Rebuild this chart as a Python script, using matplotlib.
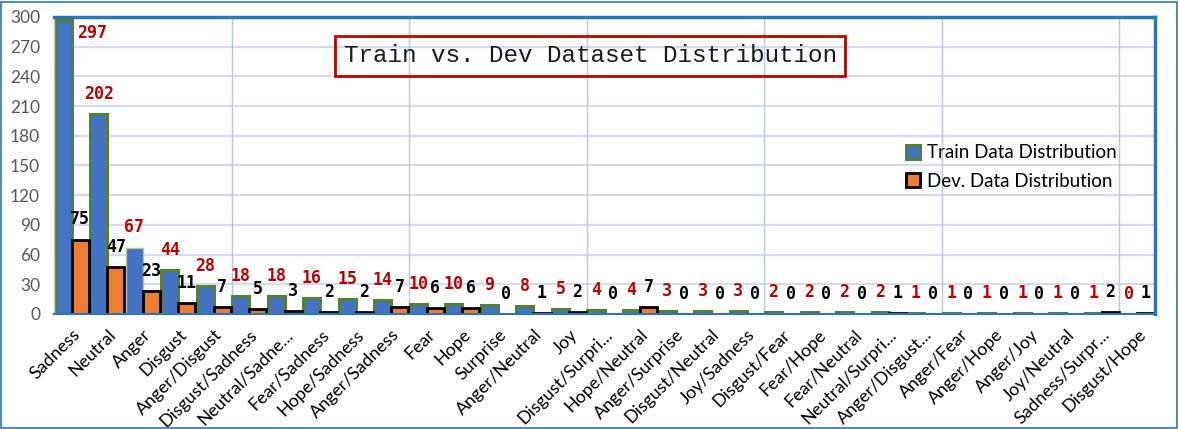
import matplotlib
matplotlib.use("Agg")
import matplotlib.pyplot as plt
import matplotlib.patches as mpatches
import numpy as np

categories = ["Sadness", "Neutral", "Anger", "Disgust", "Anger/Disgust", "Disgust/Sadness",
              "Neutral/Sadne...", "Fear/Sadness", "Hope/Sadness", "Anger/Sadness", "Fear", "Hope",
              "Surprise", "Anger/Neutral", "Joy", "Disgust/Surpri...", "Hope/Neutral",
              "Anger/Surprise", "Disgust/Neutral", "Joy/Sadness", "Disgust/Fear", "Fear/Hope",
              "Fear/Neutral", "Neutral/Surpri...", "Anger/Disgust...", "Anger/Fear", "Anger/Hope",
              "Anger/Joy", "Joy/Neutral", "Sadness/Surpr...", "Disgust/Hope"]
train = [297, 202, 67, 44, 28, 18, 18, 16, 15, 14, 10, 10, 9, 8, 5, 4, 4, 3, 3, 3,
         2, 2, 2, 2, 1, 1, 1, 1, 1, 1, 0]
dev = [75, 47, 23, 11, 7, 5, 3, 2, 2, 7, 6, 6, 0, 1, 2, 0, 7, 0, 0, 0,
       0, 0, 0, 1, 0, 0, 0, 0, 0, 2, 1]
yticks = list(range(0, 301, 30))

W, H = 1179, 429
fig = plt.figure(figsize=(W / 100, H / 100), dpi=100)
ax = fig.add_axes([54 / W, 1 - 314 / H, (1155 - 54) / W, (314 - 17) / H])

x = np.arange(len(categories))
bw = 0.48
train_edges = ["#548235"] * len(train)
train_lw = [2.2] * len(train)
train_edges[2] = "#A9C99A"
train_lw[2] = 1.0
ax.bar(x - bw / 2, train, width=bw, color="#4472C4", edgecolor=train_edges,
       linewidth=train_lw, zorder=3)
ax.bar(x + bw / 2, dev, width=bw, color="#ED7D31", edgecolor="black",
       linewidth=2.0, zorder=3)

ax.set_xlim(-0.5, len(categories) - 0.5)
ax.set_ylim(0, 300)
ax.set_yticks(yticks)
ax.set_yticklabels([str(v) for v in yticks], fontsize=12.5, color="#595959", family="Lato")
ax.tick_params(axis="y", length=0, pad=10)
ax.set_xticks(x)
ax.set_xticklabels(categories, rotation=45, ha="right", rotation_mode="anchor",
                   fontsize=12.8, family="Lato", color="black")
ax.tick_params(axis="x", length=0, pad=9)

for yv in yticks[1:]:
    ax.axhline(yv, color="#D6DCEE", linewidth=1.6, zorder=1)
for xv in np.arange(4.5, len(categories), 5):
    ax.axvline(xv, color="#B4C7E7", linewidth=1.0, zorder=1)

for s in ["top", "right"]:
    ax.spines[s].set_color("#2E75B6")
    ax.spines[s].set_linewidth(2.5)
ax.spines["bottom"].set_color("#2E75B6")
ax.spines["bottom"].set_linewidth(1.5)
ax.spines["left"].set_color("#C8C8C8")
ax.spines["left"].set_linewidth(1.0)
for s in ax.spines.values():
    s.set_zorder(4)

lab_font = dict(family="DejaVu Sans Mono", fontsize=12, fontweight="bold")
for i, (t, d) in enumerate(zip(train, dev)):
    if t >= 290:
        ax.annotate(str(t), (x[i] - bw / 2, t), xytext=(21, -13), textcoords="offset points",
                    ha="center", va="baseline", color="#C00000", zorder=5, **lab_font)
    else:
        ax.annotate(str(t), (x[i] - bw / 2, t), xytext=(0, 11), textcoords="offset points",
                    ha="center", va="baseline", color="#C00000", zorder=5, **lab_font)
    ax.annotate(str(d), (x[i] + bw / 2, d), xytext=(0, 11), textcoords="offset points",
                ha="center", va="baseline", color="black", zorder=5, **lab_font)

# title box
fig.text(590 / W, 1 - 56 / H, "Train vs. Dev Dataset Distribution", family="Liberation Mono",
         fontsize=17.5, ha="center", va="center", color="#1A1A1A",
         bbox=dict(boxstyle="square,pad=0.35", facecolor="none", edgecolor="#C00000", linewidth=2))

h_t = mpatches.Patch(facecolor="#4472C4", edgecolor="#548235", linewidth=2.2)
h_d = mpatches.Patch(facecolor="#ED7D31", edgecolor="black", linewidth=2.0)
fig.legend([h_t, h_d], ["Train Data Distribution", "Dev. Data Distribution"],
           loc="center left", bbox_to_anchor=(906 / W, 1 - 167 / H), frameon=False,
           prop=dict(family="Lato", size=13.5), handlelength=0.75, handleheight=0.75,
           handletextpad=0.35, labelspacing=0.6, borderpad=0, borderaxespad=0)

fig.patches.append(mpatches.Rectangle((1 / W, 1 / H), (W - 3) / W, (H - 3) / H,
                                      transform=fig.transFigure, fill=False,
                                      edgecolor="#2E75B6", linewidth=1.2))

fig.savefig("out.png", dpi=100, facecolor="white")
